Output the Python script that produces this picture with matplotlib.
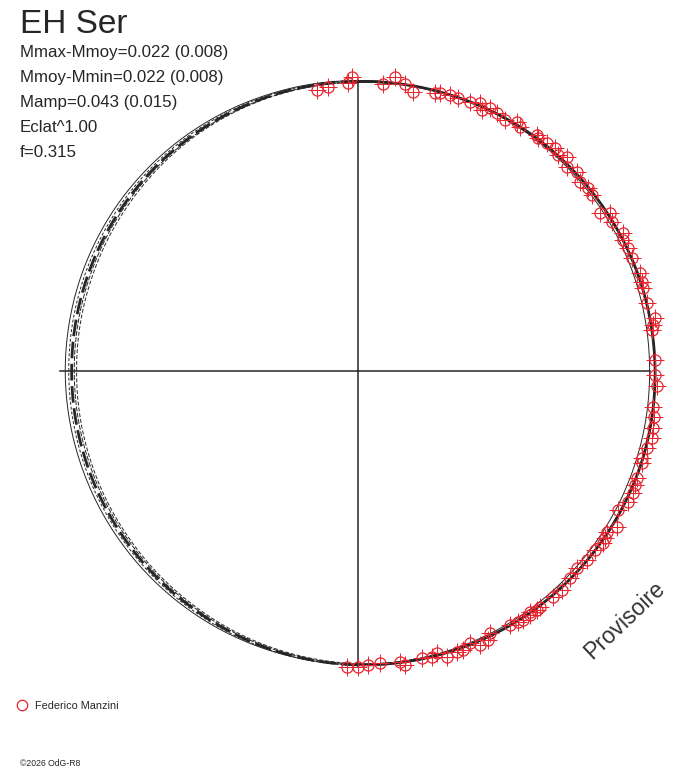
import numpy as np
import matplotlib
matplotlib.use('Agg')
import matplotlib.pyplot as plt
from matplotlib.lines import Line2D

# polar light curve of EH Ser: phase runs clockwise from the top
star = 'EH Ser'
stats = ['Mmax-Mmoy=0.022 (0.008)', 'Mmoy-Mmin=0.022 (0.008)',
         'Mamp=0.043 (0.015)', 'Eclat^1.00', 'f=0.315']
observer = 'Federico Manzini'

# observations (phase, normalised radius)
obs_phase = [0.977, 0.983, 0.9945, 0.997, 0.0138, 0.0199, 0.0258, 0.031, 0.043, 0.0457,
             0.0512, 0.0559, 0.0628, 0.068, 0.0706, 0.074, 0.0787, 0.0843, 0.0904, 0.0933,
             0.1033, 0.1047, 0.110, 0.1152, 0.1189, 0.1231, 0.127, 0.1326, 0.1378, 0.143,
             0.1474, 0.158, 0.1608, 0.1656, 0.1737, 0.177, 0.182, 0.1878, 0.1967, 0.2017,
             0.205, 0.2132, 0.2219, 0.2254, 0.228, 0.2441, 0.2521, 0.258, 0.2693, 0.2745,
             0.2803, 0.2857, 0.2914, 0.2973, 0.2999, 0.3083, 0.3123, 0.3164, 0.322, 0.328,
             0.3364, 0.3414, 0.3447, 0.3475, 0.353, 0.3597, 0.3666, 0.373, 0.3806, 0.3866,
             0.3956, 0.4014, 0.407, 0.3978, 0.4022, 0.4097, 0.4142, 0.4258, 0.4283, 0.4333,
             0.4378, 0.4428, 0.4461, 0.452, 0.4565, 0.4597, 0.4651, 0.4747, 0.4772, 0.488,
             0.4946, 0.5, 0.5059]
obs_r = [0.975, 0.981, 0.990, 1.010, 0.990, 1.018, 0.999, 0.977, 0.991, 0.996,
         1.000, 0.999, 1.001, 1.012, 0.993, 1.011, 1.007, 1.000, 1.015, 1.006,
         1.018, 1.012, 1.018, 1.023, 1.012, 1.028, 1.004, 1.017, 1.002, 1.010,
         1.006, 0.993, 1.022, 1.012, 1.027, 1.016, 1.020, 1.019, 1.026, 1.023,
         1.020, 1.020, 1.037, 1.026, 1.020, 1.021, 1.021, 1.029, 1.021, 1.029,
         1.033, 1.036, 1.028, 1.021, 1.026, 1.027, 1.029, 1.034, 1.031, 1.013,
         1.039, 1.019, 1.025, 1.029, 1.021, 1.020, 1.012, 1.018, 1.029, 1.026,
         1.024, 1.018, 1.026, 1.026, 1.026, 1.023, 1.017, 1.008, 1.027, 1.031,
         1.011, 1.024, 1.024, 1.029, 1.006, 1.015, 1.010, 1.023, 1.010, 1.006,
         1.011, 1.017, 1.018]

# model curves sampled every 0.05 in phase
model_phase = [0.00, 0.05, 0.10, 0.15, 0.20, 0.25, 0.30, 0.35, 0.40, 0.45,
               0.50, 0.55, 0.60, 0.65, 0.70, 0.75, 0.80, 0.85, 0.90, 0.95]
curve_main = [0.995, 1.000, 1.008, 1.013, 1.018, 1.021, 1.024, 1.022, 1.020, 1.015,
              1.010, 1.002, 0.993, 0.988, 0.985, 0.984, 0.985, 0.987, 0.989, 0.992]
curve_inner = [0.998, 1.000, 1.003, 1.004, 1.003, 1.002, 1.004, 1.007, 1.010, 1.010,
               1.009, 1.007, 1.006, 1.005, 1.005, 1.006, 1.006, 1.005, 1.002, 0.999]
curve_a = [0.992, 0.998, 1.006, 1.012, 1.017, 1.020, 1.022, 1.020, 1.018, 1.013,
           1.006, 0.995, 0.983, 0.974, 0.969, 0.967, 0.969, 0.974, 0.982, 0.988]
curve_b = [0.997, 1.000, 1.009, 1.014, 1.019, 1.022, 1.025, 1.023, 1.021, 1.016,
           1.012, 1.005, 0.999, 0.995, 0.994, 0.994, 0.995, 0.996, 0.996, 0.996]
curve_c = [0.994, 0.999, 1.007, 1.013, 1.018, 1.021, 1.023, 1.021, 1.019, 1.014,
           1.008, 0.999, 0.988, 0.980, 0.976, 0.975, 0.977, 0.981, 0.986, 0.990]

W, H = 688, 768
cx, cy, R = 358, 371, 291
rmax = 1.1
ink = '#262626'
red = '#e8242f'

fig = plt.figure(figsize=(W / 100, H / 100), dpi=100)
fig.patch.set_facecolor('white')
rp = rmax * R
ax = fig.add_axes([(cx - rp) / W, (H - cy - rp) / H, 2 * rp / W, 2 * rp / H],
                  projection='polar')
ax.set_theta_zero_location('N')
ax.set_theta_direction(-1)
ax.set_ylim(0, rmax)
ax.set_axis_off()

# cross through the centre
ax.plot([0, 0], [0, 1.0], color=ink, lw=1.1)
ax.plot([np.pi, np.pi], [0, 1.017], color=ink, lw=1.1)
ax.plot([np.pi / 2, np.pi / 2], [0, 1.003], color=ink, lw=1.1)
ax.plot([1.5 * np.pi, 1.5 * np.pi], [0, 1.024], color=ink, lw=1.1)

mp = np.array(model_phase + [1.0])
right = mp <= 0.5
left = mp >= 0.5
styles = [(curve_main, 2.0, (6, 2)), (curve_a, 0.7, (4, 2)),
          (curve_b, 0.7, (3, 2)), (curve_c, 0.7, (5, 1.5)),
          (curve_inner, 0.7, None)]
for curve, lw, dash in styles:
    rr = np.array(curve + [curve[0]])
    th = 2 * np.pi * mp
    ln1, = ax.plot(th[right], rr[right], color=ink, lw=lw, solid_capstyle='butt')
    ln2, = ax.plot(th[left], rr[left], color=ink, lw=lw)
    if dash is not None:
        ln2.set_dashes(dash)
    # let the polar transform draw the segments as arcs
    for ln in (ln1, ln2):
        ln.get_path()._interpolation_steps = 40

th_obs = 2 * np.pi * np.array(obs_phase)
ax.plot(th_obs, obs_r, ls='none', marker='+', ms=13, mew=0.7, color=red)
ax.plot(th_obs, obs_r, ls='none', marker='o', ms=8, mfc='none', mec=red, mew=0.9)

# texts
fig.text(20 / W, 1 - 33 / H, star, fontsize=24, color=ink, family='Liberation Sans')
for i, s in enumerate(stats):
    fig.text(20 / W, 1 - (57 + 25 * i) / H, s, fontsize=12.2, color=ink,
             family='Liberation Sans')

fig.text(625 / W, 1 - 620 / H, 'Provisoire', fontsize=16.5, color='#333333',
         rotation=43.5, ha='center', va='center', family='Liberation Sans')

fig.add_artist(Line2D([22 / W], [1 - 705 / H], marker='o', ms=7.5, mfc='none',
                      mec=red, mew=0.9, transform=fig.transFigure))
fig.text(35 / W, 1 - 709 / H, observer, fontsize=7.8, color=ink, family='Liberation Sans')
fig.text(20 / W, 1 - 766 / H, '\u00a92026 OdG-R8', fontsize=6.2, color=ink,
         family='Liberation Sans')

fig.savefig('out.png', dpi=100, facecolor='white')
